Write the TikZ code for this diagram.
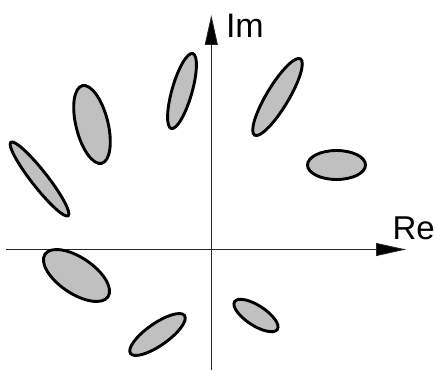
\documentclass[tikz,border=0pt]{standalone}
\usepackage{fontspec}
\setmainfont{Liberation Sans}
\usetikzlibrary{arrows.meta}
\definecolor{ellfill}{RGB}{192,192,192}
\begin{document}
\begin{tikzpicture}[x=1pt,y=1pt,
  axis/.style={line width=0.9pt, draw=black!85, -{Triangle[length=30pt,width=13pt,fill=black]}},
  ell/.style={line width=2.9pt, draw=black, fill=ellfill},
  lbl/.style={inner sep=0pt, anchor=base west}]
\useasboundingbox (0,0) rectangle (435,370);
% axes
\coordinate (ybot) at (211.3,0);
\coordinate (ytop) at (211.3,355);
\coordinate (xleft) at (6,120.5);
\coordinate (xright) at (406,120.5);
\draw[axis] (ybot) -- (ytop);
\draw[axis] (xleft) -- (xright);
\node[lbl, font=\fontsize{34}{34}\selectfont] (im) at (225.8,332) {Im};
\node[lbl, font=\fontsize{33}{33}\selectfont] (re) at (392.4,130.7) {Re};
% ellipses
\draw[ell, shift={(182,279)}, rotate=74] (0,0) ellipse [x radius=39, y radius=10];
\draw[ell, shift={(277.5,273)}, rotate=59] (0,0) ellipse [x radius=44.5, y radius=11];
\draw[ell, shift={(336.5,205)}] (0,0) ellipse [x radius=29, y radius=14.5];
\draw[ell, shift={(92,245.5)}, rotate=104] (0,0) ellipse [x radius=40, y radius=16];
\draw[ell, shift={(39.5,191)}, rotate=128] (0,0) ellipse [x radius=46.6, y radius=8];
\draw[ell, shift={(76.5,94.5)}, rotate=-34] (0,0) ellipse [x radius=38, y radius=18];
\draw[ell, shift={(157.5,35.5)}, rotate=35] (0,0) ellipse [x radius=33, y radius=11];
\draw[ell, shift={(256,54.5)}, rotate=-33] (0,0) ellipse [x radius=25.5, y radius=10];
\end{tikzpicture}
\end{document}
